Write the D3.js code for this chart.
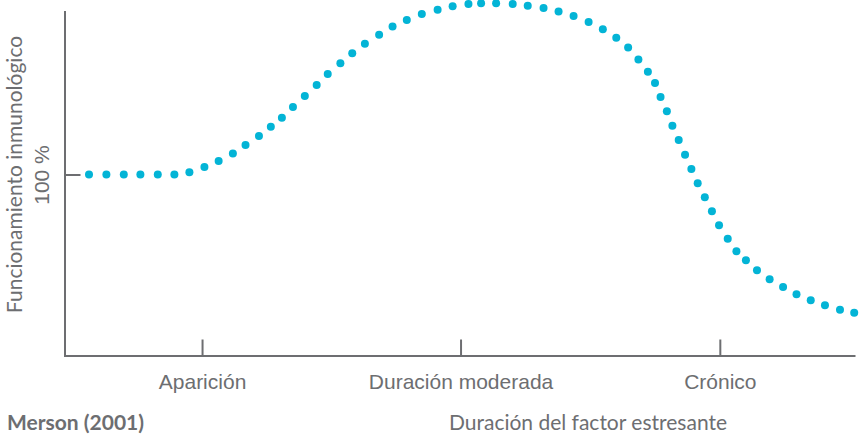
<!DOCTYPE html>
<html>
<head>
<meta charset="utf-8">
<script src="https://cdn.jsdelivr.net/npm/d3@7"></script>
<style>
  body { margin: 0; background: #fff; }
  svg { display: block; font-family: Lato, "Open Sans", sans-serif; }
  .axis path, .axis line { stroke: #6d6e71; stroke-width: 2; }
  .lbl { fill: #6d6e71; font-size: 21px; }
</style>
</head>
<body>
<svg id="chart" width="860" height="434"></svg>
<script>
// duration of the stressor (0-100) and immune function (100 = baseline)
var duracion = [3.1, 5.3, 7.5, 9.6, 11.8, 13.9, 15.8, 17.7, 19.5, 21.3, 22.9, 24.6, 26.1, 27.5, 28.9,
  30.4, 31.9, 33.3, 34.9, 36.4, 38.0, 39.8, 41.5, 43.3, 45.2, 47.2, 49.1, 51.1, 52.7, 54.6,
  56.7, 58.6, 60.6, 62.5, 64.4, 66.3, 68.1, 69.8, 71.3, 72.6, 73.8, 74.7, 75.4, 76.2, 76.9,
  77.7, 78.5, 79.3, 80.1, 81.0, 81.9, 82.8, 83.9, 85.0, 86.2, 87.6, 89.2, 90.9, 92.6, 94.4,
  96.2, 98.1, 99.9]
var funcion = [100, 100, 100, 100, 100, 100, 101.2, 104.1, 107.5, 111.6, 116.3, 121.3, 126.4, 131.4, 137.3,
  143.4, 149.4, 155.5, 161.4, 167.0, 172.3, 177.2, 181.7, 185.4, 188.7, 191.0, 192.9, 194.2, 194.6, 194.6,
  194.2, 193.3, 192.0, 190.1, 187.6, 184.3, 180.2, 175.6, 170.1, 163.6, 156.8, 150.6, 142.8, 134.9, 127.0,
  119.1, 110.9, 103.0, 95.1, 87.4, 79.7, 71.9, 64.5, 57.6, 52.6, 47.1, 42.1, 37.8, 33.8, 30.5,
  27.7, 25.3, 23.6]

var etapas = ["Aparición", "Duración moderada", "Crónico"]
var etapasPos = [17.4, 50.1, 82.9]
var yTicks = [100]

var svg = d3.select("#chart")

var x = d3.scaleLinear().domain([0, 100]).range([64.5, 855])
var y = d3.scaleLinear().domain([0, 190]).range([355.5, 11.6])

// x axis, ticks pointing up
var gx = svg.append("g")
  .attr("class", "axis")
  .attr("transform", "translate(0," + y(0) + ")")
  .call(d3.axisBottom(x).tickValues(etapasPos).tickSizeInner(-16).tickSizeOuter(0)
    .tickFormat((d, i) => etapas[i]))
gx.selectAll("text")
  .attr("class", "lbl")
  .attr("y", 33)
  .attr("dy", 0)
  .attr("fill", null)
  .attr("font-size", null)
  .attr("font-family", null)

// y axis, tick pointing right
var gy = svg.append("g")
  .attr("class", "axis")
  .attr("transform", "translate(" + x(0) + ",0)")
  .call(d3.axisLeft(y).tickValues(yTicks).tickSizeInner(-16).tickSizeOuter(0)
    .tickFormat(d => d + " %"))
gy.selectAll("text")
  .attr("class", "lbl")
  .attr("x", null).attr("dy", null)
  .attr("fill", null).attr("font-size", null).attr("font-family", null)
  .attr("text-anchor", "middle")
  .attr("transform", "translate(-15.5,0) rotate(-90)")
gy.select(".domain").attr("stroke-linecap", "square")

svg.append("text")
  .attr("class", "lbl")
  .attr("text-anchor", "middle")
  .attr("transform", "translate(22," + y(100) + ") rotate(-90)")
  .text("Funcionamiento inmunológico")

svg.append("g")
  .selectAll("circle")
  .data(duracion)
  .join("circle")
    .attr("cx", d => x(d))
    .attr("cy", (d, i) => y(funcion[i]))
    .attr("r", 4)
    .attr("fill", "#03b4d6")

svg.append("text")
  .attr("class", "lbl")
  .attr("x", 7)
  .attr("y", 430)
  .style("font-weight", "bold")
  .text("Merson (2001)")

svg.append("text")
  .attr("class", "lbl")
  .attr("x", 588)
  .attr("y", 430)
  .attr("text-anchor", "middle")
  .text("Duración del factor estresante")
</script>
</body>
</html>
